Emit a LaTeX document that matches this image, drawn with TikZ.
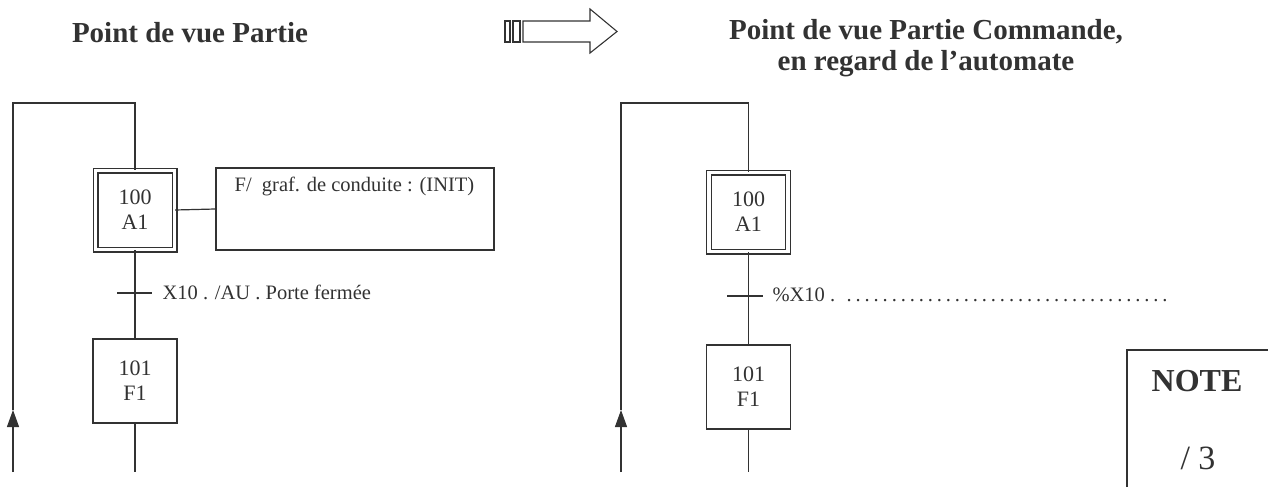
\documentclass[tikz,border=0pt]{standalone}
\usepackage{fontspec}
\setmainfont{Liberation Serif}
\usetikzlibrary{arrows.meta}
\definecolor{ink}{RGB}{50,50,50}
\begin{document}
\begin{tikzpicture}[x=1pt,y=-1pt,color=ink,line width=1.2pt,
  stepbox/.style={draw, minimum width=84pt, minimum height=84pt, inner sep=0pt, align=center, font=\fontsize{22}{25}\selectfont},
  initbox/.style={draw, double=white, double distance=3.6pt, minimum width=79pt, minimum height=79pt, inner sep=0pt, align=center, font=\fontsize{22}{25}\selectfont},
  actbox/.style={draw, minimum width=278pt, minimum height=82pt, inner sep=0pt},
  txt/.style={inner sep=0pt, font=\fontsize{20.5}{23}\selectfont},
  title/.style={inner sep=0pt, align=center, font=\fontsize{29}{31}\selectfont\bfseries},
  uparrow/.style={-{Triangle[length=17pt,width=12pt]}},
]
\useasboundingbox (0,0) rectangle (1268,487);
% titles
\node[title] (t1) at (190,33) {Point de vue Partie};
\node[title] (t2) at (926,48) {Point de vue Partie Commande,\\en regard de l'automate};
% hollow arrow
\draw[line width=1.1pt] (505,21) rectangle (510,42);
\draw[line width=1.1pt] (513,21) rectangle (520,42);
\draw[line width=1.1pt] (523,21) -- (590,21) -- (590,9) -- (617,31.5) -- (590,53) -- (590,42) -- (523,42) -- cycle;

% ---------- left graph
\node[initbox] (s100) at (135,210) {100\\A1};
\node[actbox] (act) at (355,209) {};
\node[txt, anchor=west] (actlbl) at (234,186) {F/\ \ graf. de conduite : (INIT)};
\draw (s100.east) -- (act.west);
\node[stepbox] (s101) at (135,381) {101\\F1};
\coordinate (tl) at (117,293);
\coordinate (tr) at (152,293);
\draw (s100.south) -- (s101.north);
\draw (tl) -- (tr);
\node[txt, anchor=west] (tlbl) at (162,292) {X10 . /AU . Porte fermée};
\coordinate (lbot) at (135,472);
\draw (s101.south) -- (lbot);
\coordinate (lb) at (13,472);
\coordinate (la) at (13,410);
\coordinate (lt) at (13,103);
\coordinate (lr) at (135,103);
\draw[uparrow] (lb) -- (la);
\draw (la) -- (lt) -- (lr) -- (s100.north);

% ---------- right graph
\node[initbox] (r100) at (748.5,212) {100\\A1};
\node[stepbox] (r101) at (748.5,387) {101\\F1};
\coordinate (rtl) at (727,296);
\coordinate (rtr) at (763,296);
\draw (r100.south) -- (r101.north);
\draw (rtl) -- (rtr);
\node[txt, anchor=west] (rlbl) at (772,295) {\%X10 . \makebox[330pt]{\dotfill}};
\coordinate (rbot) at (748.5,472);
\draw (r101.south) -- (rbot);
\coordinate (rb) at (621,472);
\coordinate (ra) at (621,410);
\coordinate (rt) at (621,103);
\coordinate (rr) at (748.5,103);
\draw[uparrow] (rb) -- (ra);
\draw (ra) -- (rt) -- (rr) -- (r100.north);

% ---------- note box
\coordinate (nb) at (1127,487);
\coordinate (nt) at (1127,350);
\coordinate (nr) at (1268,350);
\draw (nb) -- (nt) -- (nr);
\node[inner sep=0pt, font=\fontsize{32}{36}\selectfont\bfseries] (note) at (1197,381) {NOTE};
\node[inner sep=0pt, font=\fontsize{34}{38}\selectfont] (score) at (1198,458) {/ 3};
\end{tikzpicture}
\end{document}
